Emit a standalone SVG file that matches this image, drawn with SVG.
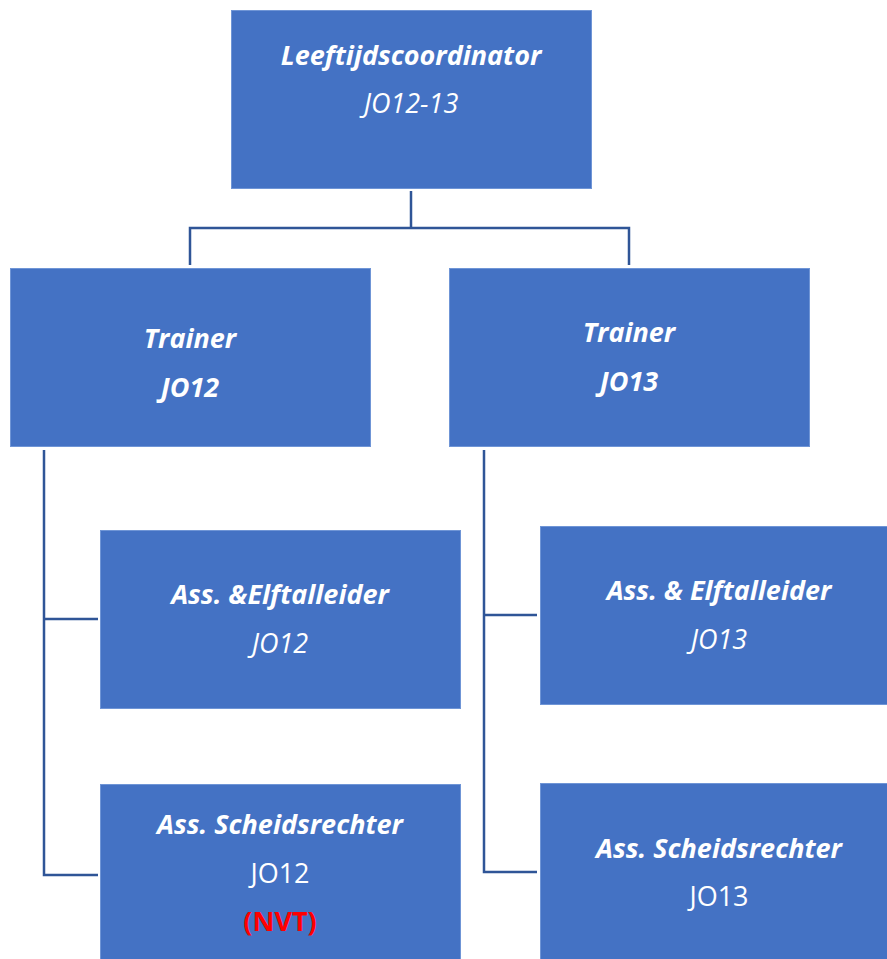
<svg xmlns="http://www.w3.org/2000/svg" width="887" height="959" viewBox="0 0 887 959">
<style>
.box{fill:#4472C4;stroke:#6F95D6;stroke-width:1}
.t{font-family:"Open Sans","Liberation Sans",sans-serif;font-size:27px;fill:#fff;text-anchor:middle}
.bi{font-weight:bold;font-style:italic}
.i{font-style:italic}
.nvt{font-weight:bold;fill:#FF0000}
.c{fill:none;stroke:#2F5597;stroke-width:2.5}
</style>
<rect width="887" height="959" fill="#fff"/>
<g id="connectors">
<polyline class="c" points="411,191 411,228"/>
<polyline class="c" points="190,265 190,228 629,228 629,265"/>
<polyline class="c" points="44,450 44,875 98,875"/>
<polyline class="c" points="44,619 98,619"/>
<polyline class="c" points="484,450 484,872 537,872"/>
<polyline class="c" points="484,615 537,615"/>
</g>
<g id="coordinator">
<rect class="box" x="231.5" y="10.5" width="360" height="178"/>
<text class="t bi" x="411" y="65">Leeftijdscoordinator</text>
<text class="t i" x="411" y="113">JO12-13</text>
</g>
<g id="trainer-jo12">
<rect class="box" x="10.5" y="268.5" width="360" height="178"/>
<text class="t bi" x="190" y="348">Trainer</text>
<text class="t bi" x="190" y="397">JO12</text>
</g>
<g id="trainer-jo13">
<rect class="box" x="449.5" y="268.5" width="360" height="178"/>
<text class="t bi" x="629" y="342">Trainer</text>
<text class="t bi" x="629" y="391">JO13</text>
</g>
<g id="ass-elftalleider-jo12">
<rect class="box" x="100.5" y="530.5" width="360" height="178"/>
<text class="t bi" x="280" y="604">Ass. &amp;Elftalleider</text>
<text class="t i" x="280" y="653">JO12</text>
</g>
<g id="ass-scheidsrechter-jo12">
<rect class="box" x="100.5" y="784.5" width="360" height="178"/>
<text class="t bi" x="280" y="834">Ass. Scheidsrechter</text>
<text class="t" x="280" y="883">JO12</text>
<text class="t nvt" x="280" y="931">(NVT)</text>
</g>
<g id="ass-elftalleider-jo13">
<rect class="box" x="540.5" y="526.5" width="360" height="178"/>
<text class="t bi" x="719" y="600">Ass. &amp; Elftalleider</text>
<text class="t i" x="719" y="649">JO13</text>
</g>
<g id="ass-scheidsrechter-jo13">
<rect class="box" x="540.5" y="783.5" width="360" height="178"/>
<text class="t bi" x="719" y="858">Ass. Scheidsrechter</text>
<text class="t" x="719" y="906">JO13</text>
</g>
</svg>
